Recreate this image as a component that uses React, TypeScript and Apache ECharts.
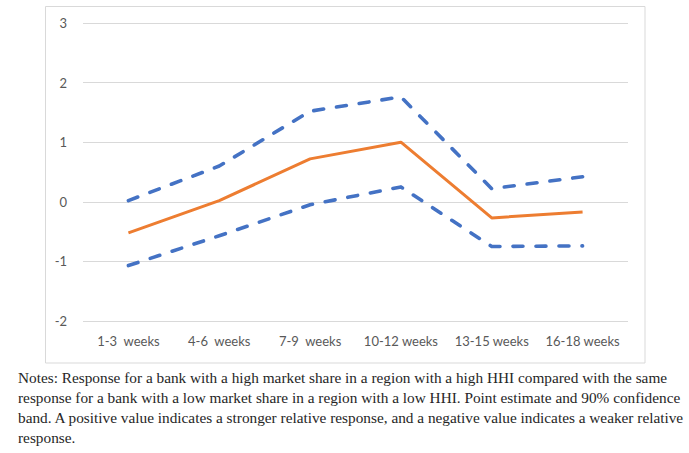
import React, { useEffect, useRef } from "react";
import * as echarts from "echarts";

const categories = ["1-3  weeks", "4-6  weeks", "7-9  weeks", "10-12 weeks", "13-15 weeks", "16-18 weeks"];
const pointEstimate = [-0.52, 0.02, 0.72, 1.0, -0.27, -0.17];
const upperBand = [0.02, 0.6, 1.52, 1.76, 0.22, 0.42];
const lowerBand = [-1.07, -0.57, -0.05, 0.25, -0.75, -0.74];
const noteLines = [
  "Notes: Response for a bank with a high market share in a region with a high HHI compared with the same",
  "response for a bank with a low market share in a region with a low HHI. Point estimate and 90% confidence",
  "band. A positive value indicates a stronger relative response, and a negative value indicates a weaker relative",
  "response.",
];

export default function App() {
  const ref = useRef<HTMLDivElement>(null);
  useEffect(() => {
    const chart = echarts.init(ref.current!, null, { renderer: "svg" });
    const blue = "#4472C4";
    const dashed = (name: string, data: number[]) => ({
      name,
      type: "line",
      data,
      symbol: "none",
      lineStyle: { color: blue, width: 3.6, type: [10, 13], cap: "round", join: "round" },
      z: 2,
    });
    chart.setOption({
      animation: false,
      grid: { left: 83, right: 61, top: 23, bottom: 132, containLabel: false },
      xAxis: {
        type: "category",
        data: categories,
        boundaryGap: true,
        axisLine: { show: false },
        axisTick: { show: false },
        axisLabel: { color: "#595959", fontSize: 13, fontFamily: "Lato", margin: 13, interval: 0 },
      },
      yAxis: {
        type: "value",
        min: -2,
        max: 3,
        interval: 1,
        axisLine: { show: false },
        axisTick: { show: false },
        splitLine: { lineStyle: { color: "#d9d9d9", width: 1 } },
        axisLabel: { color: "#595959", fontSize: 13, fontFamily: "Lato", margin: 16 },
      },
      series: [
        dashed("Upper", upperBand),
        dashed("Lower", lowerBand),
        {
          name: "Point estimate",
          type: "line",
          data: pointEstimate,
          symbol: "none",
          lineStyle: { color: "#ED7D31", width: 3, join: "round" },
          z: 3,
        },
      ],
      graphic: [
        {
          type: "rect",
          shape: { x: 45.5, y: 6.5, width: 599.5, height: 356.5 },
          style: { fill: "none", stroke: "#d9d9d9", lineWidth: 1 },
          silent: true,
        },
        ...noteLines.map((t, i) => ({
          type: "text",
          x: 18,
          y: 370 + i * 20,
          style: {
            text: t,
            fill: "#262626",
            font: "15.3px 'Liberation Serif'",
            textVerticalAlign: "top",
          },
        })),
      ],
    });
    return () => chart.dispose();
  }, []);
  return (
    <div
      ref={ref}
      style={{ position: "absolute", left: 0, top: 0, width: 689, height: 453, background: "#fff" }}
    />
  );
}
